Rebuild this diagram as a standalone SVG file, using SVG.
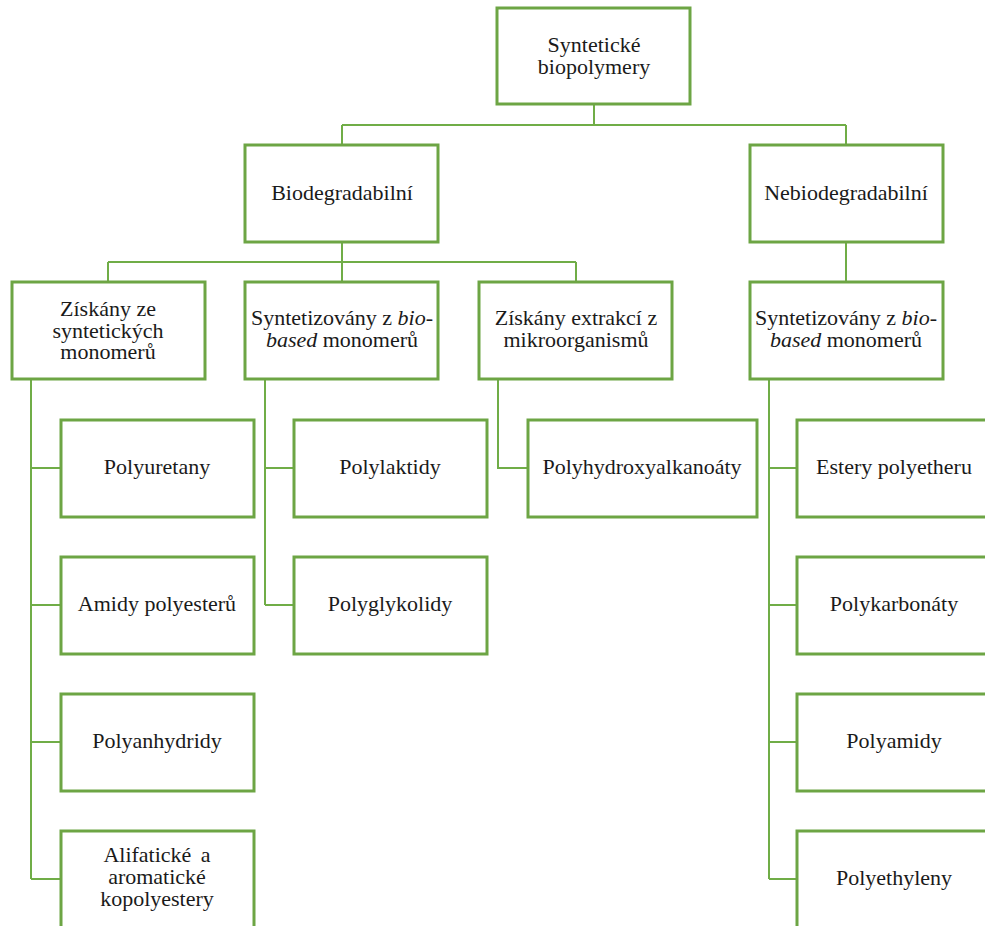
<svg xmlns="http://www.w3.org/2000/svg" width="985" height="926" viewBox="0 0 985 926">
<style>
.box{fill:#fff;stroke:#6DA544;stroke-width:3}
.c{fill:none;stroke:#70AD47;stroke-width:2}
text{font-family:"Liberation Serif","Times New Roman",serif;font-size:22px;fill:#1a1a1a;text-anchor:middle}
.i{font-style:italic}
</style>
<rect width="985" height="926" fill="#fff"/>
<g id="connectors">
<path class="c" d="M594 104V125M342 125H846M342 125V145M846 125V145"/>
<path class="c" d="M342 242V262M108 262H576M108 262V282M342 262V282M576 262V282M846 242V282"/>
<path class="c" d="M31 379V879M31 468H61M31 605H61M31 742H61M31 879H61"/>
<path class="c" d="M265 379V605M265 468H294M265 605H294"/>
<path class="c" d="M498 379V468H528"/>
<path class="c" d="M769 379V879M769 468H797M769 605H797M769 742H797M769 879H797"/>
</g>
<g id="root"><rect class="box" x="497" y="8" width="193" height="96"/><text x="594" y="52">Syntetické</text><text x="594" y="74">biopolymery</text></g>
<g id="bio"><rect class="box" x="245" y="145" width="193" height="97"/><text x="342" y="200">Biodegradabilní</text></g>
<g id="nebio"><rect class="box" x="750" y="145" width="193" height="97"/><text x="846" y="200">Nebiodegradabilní</text></g>
<g id="ziskany-synt"><rect class="box" x="12" y="282" width="193" height="97"/><text x="108" y="316">Získány ze</text><text x="108" y="338">syntetických</text><text x="108" y="359">monomerů</text></g>
<g id="synt-bio"><rect class="box" x="245" y="282" width="193" height="97"/><text x="342" y="325">Syntetizovány z <tspan class="i">bio-</tspan></text><text x="342" y="347"><tspan class="i">based</tspan> monomerů</text></g>
<g id="ziskany-extr"><rect class="box" x="479" y="282" width="193" height="97"/><text x="576" y="325">Získány extrakcí z</text><text x="576" y="347">mikroorganismů</text></g>
<g id="synt-bio-2"><rect class="box" x="750" y="282" width="193" height="97"/><text x="846" y="325">Syntetizovány z <tspan class="i">bio-</tspan></text><text x="846" y="347"><tspan class="i">based</tspan> monomerů</text></g>
<g id="polyuretany"><rect class="box" x="61" y="420" width="193" height="97"/><text x="157" y="474">Polyuretany</text></g>
<g id="amidy"><rect class="box" x="61" y="557" width="193" height="97"/><text x="157" y="611">Amidy polyesterů</text></g>
<g id="polyanhydridy"><rect class="box" x="61" y="694" width="193" height="97"/><text x="157" y="748">Polyanhydridy</text></g>
<g id="alifaticke"><rect class="box" x="61" y="831" width="193" height="100"/><text x="157" y="862" word-spacing="4">Alifatické a</text><text x="157" y="884">aromatické</text><text x="157" y="906">kopolyestery</text></g>
<g id="polylaktidy"><rect class="box" x="294" y="420" width="193" height="97"/><text x="390" y="474">Polylaktidy</text></g>
<g id="polyglykolidy"><rect class="box" x="294" y="557" width="193" height="97"/><text x="390" y="611">Polyglykolidy</text></g>
<g id="pha"><rect class="box" x="528" y="420" width="229" height="97"/><text x="642" y="474">Polyhydroxyalkanoáty</text></g>
<g id="estery"><rect class="box" x="797" y="420" width="193" height="97"/><text x="894" y="474">Estery polyetheru</text></g>
<g id="polykarbonaty"><rect class="box" x="797" y="557" width="193" height="97"/><text x="894" y="611">Polykarbonáty</text></g>
<g id="polyamidy"><rect class="box" x="797" y="694" width="193" height="97"/><text x="894" y="748">Polyamidy</text></g>
<g id="polyethyleny"><rect class="box" x="797" y="831" width="193" height="100"/><text x="894" y="885">Polyethyleny</text></g>
</svg>
